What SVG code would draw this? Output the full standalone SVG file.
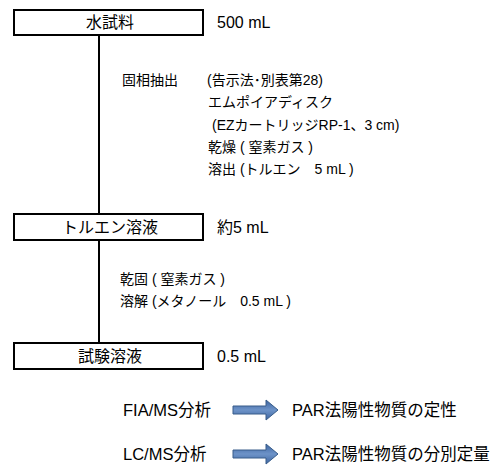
<svg xmlns="http://www.w3.org/2000/svg" width="503" height="470" viewBox="0 0 503 470">
<defs>
<linearGradient id="ag" x1="0" y1="0" x2="0" y2="1">
<stop offset="0" stop-color="#3d64a0"/>
<stop offset="0.5" stop-color="#6d93c8"/>
<stop offset="1" stop-color="#3d64a0"/>
</linearGradient>
</defs>
<style>
text{font-family:"Liberation Sans","Noto Sans CJK JP",sans-serif;font-size:16px;fill:#000}
.box{fill:#fff;stroke:#000;stroke-width:2}
.ln{stroke:#000;stroke-width:2;fill:none}
.bt{text-anchor:middle}
.st{font-size:14px}
.big{font-size:16.5px}
.arr{fill:url(#ag);stroke:#385d8a;stroke-width:1}
</style>
<rect width="503" height="470" fill="#fff"/>
<g id="connectors">
<line class="ln" x1="99" y1="35" x2="99" y2="214"/>
<line class="ln" x1="99" y1="240" x2="99" y2="343"/>
</g>
<g id="n1"><rect class="box" x="14" y="10" width="189" height="25"/><text class="bt" x="110" y="28">水試料</text></g>
<text x="217" y="28">500 mL</text>
<g id="step1">
<text class="st" x="122" y="85">固相抽出</text>
<text class="st" x="207" y="85">(告示法･別表第28)</text>
<text class="st" x="208" y="107">エムポイアディスク</text>
<text class="st" x="212" y="130">(EZカートリッジRP-1、3 cm)</text>
<text class="st" x="208" y="152">乾燥 ( 窒素ガス )</text>
<text class="st" x="208" y="174">溶出 (トルエン　5 mL )</text>
</g>
<g id="n2"><rect class="box" x="14" y="214" width="189" height="26"/><text class="bt" x="110" y="233">トルエン溶液</text></g>
<text x="217" y="233">約5 mL</text>
<g id="step2">
<text class="st" x="120" y="284">乾固 ( 窒素ガス )</text>
<text class="st" x="120" y="306">溶解 (メタノール　0.5 mL )</text>
</g>
<g id="n3"><rect class="box" x="14" y="343" width="189" height="26"/><text class="bt" x="110" y="362">試験溶液</text></g>
<text x="217" y="362">0.5 mL</text>
<g id="r1">
<text class="big" x="123" y="416">FIA/MS分析</text>
<path class="arr" d="M233,406 H266 V400 L278,410 L266,420 V414 H233 Z"/>
<text class="big" x="292" y="416">PAR法陽性物質の定性</text>
</g>
<g id="r2">
<text class="big" x="123" y="460">LC/MS分析</text>
<path class="arr" d="M233,450 H266 V444 L278,454 L266,464 V458 H233 Z"/>
<text class="big" x="292" y="460">PAR法陽性物質の分別定量</text>
</g>
</svg>
